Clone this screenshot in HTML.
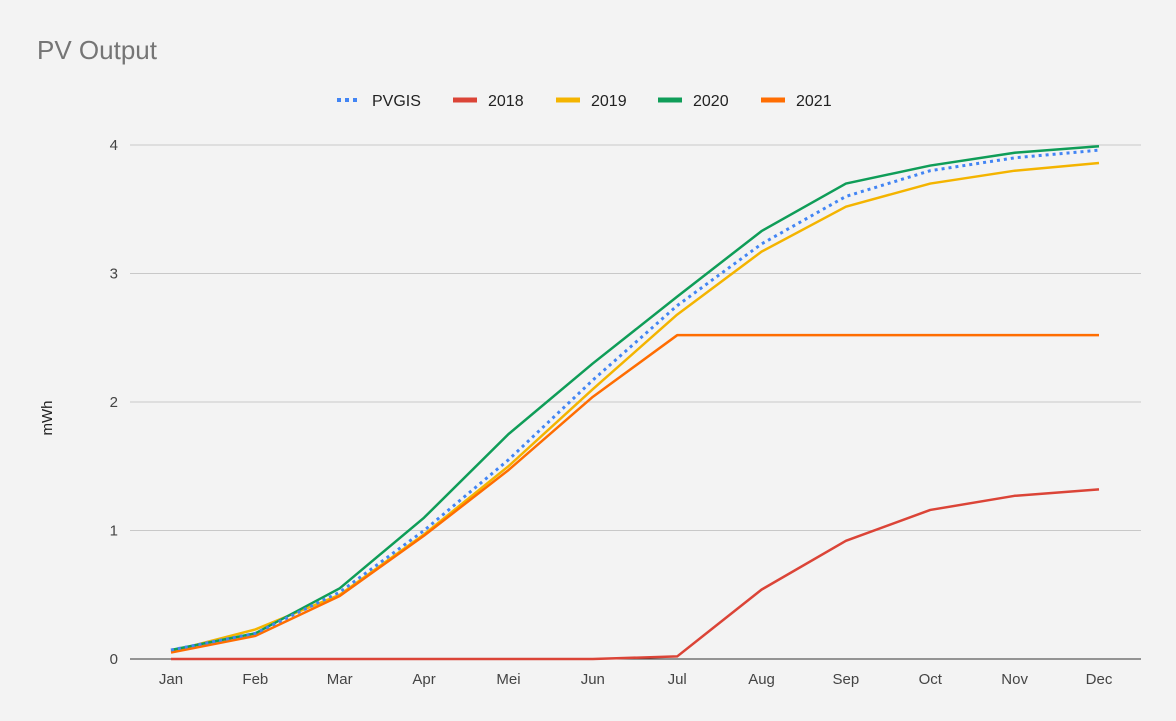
<!DOCTYPE html>
<html><head><meta charset="utf-8"><style>
body{margin:0;background:#f3f3f3;}
svg{display:block;font-family:"Liberation Sans",Roboto,sans-serif;}
</style></head><body>
<svg id="chart" width="1176" height="721" viewBox="0 0 1176 721">
<rect width="1176" height="721" fill="#f3f3f3"/>
<text x="37" y="59" font-size="26" fill="#757575">PV Output</text>
<text transform="translate(52,418) rotate(-90)" text-anchor="middle" font-size="15" fill="#222">mWh</text>
<g id="grid"></g><g id="series"></g><g id="legend"></g>
</svg>
<script>
const months=["Jan","Feb","Mar","Apr","Mei","Jun","Jul","Aug","Sep","Oct","Nov","Dec"];
const yTicks=[0,1,2,3,4];
const pvgis=[0.07,0.2,0.52,1.0,1.55,2.17,2.75,3.23,3.6,3.8,3.9,3.96];
const y2018=[0,0,0,0,0,0,0.02,0.54,0.92,1.16,1.27,1.32];
const y2019=[0.06,0.23,0.5,0.97,1.5,2.1,2.68,3.17,3.52,3.7,3.8,3.86];
const y2020=[0.07,0.2,0.55,1.1,1.75,2.3,2.82,3.33,3.7,3.84,3.94,3.99];
const y2021=[0.05,0.18,0.49,0.96,1.47,2.04,2.52,2.52,2.52,2.52,2.52,2.52];
const NS="http://www.w3.org/2000/svg";
const X=i=>171+i*(1099-171)/(months.length-1);
const Y=v=>659-v*128.5;
function mk(tag,attrs,parent){const e=document.createElementNS(NS,tag);for(const k in attrs)e.setAttribute(k,attrs[k]);parent.appendChild(e);return e;}
const grid=document.getElementById('grid');
yTicks.forEach(t=>{
  const l=mk('line',{x1:130,x2:1141,y1:Y(t),y2:Y(t),stroke:t===0?'#333':'#c8c8c8','stroke-width':1},grid);
  
  
  const tx=mk('text',{x:118,y:Y(t)+5,'text-anchor':'end','font-size':15,fill:'#444'},grid);
  tx.textContent=t;
  
  
});
months.forEach((m,i)=>{
  const tx=mk('text',{x:X(i),y:684,'text-anchor':'middle','font-size':15,fill:'#444'},grid);
  tx.textContent=m;
  
  
});
const series=[["PVGIS",pvgis,"#4285f4",true],["2018",y2018,"#db4437",false],["2019",y2019,"#f4b400",false],["2020",y2020,"#0f9d58",false],["2021",y2021,"#ff6d01",false]];
const sg=document.getElementById('series');
[1,2,4,3,0].forEach(idx=>{
  const [name,vals,col,dot]=series[idx];
  const p=mk('polyline',{points:vals.map((v,i)=>X(i)+','+Y(v)).join(' '),fill:'none',stroke:col,'stroke-width':dot?3:2.5,'stroke-dasharray':dot?'3,4':'none','stroke-linejoin':'round'},sg);
  
  
});
const lg=document.getElementById('legend');
const lx=[337,453,556,658,761];
series.forEach(([name,vals,col,dot],i)=>{
  const g=mk('g',{},lg);
  
  
  mk('line',{x1:lx[i],x2:lx[i]+24,y1:100,y2:100,stroke:col,'stroke-width':dot?4:5,'stroke-dasharray':dot?'4,4':'none'},g);
  const t=mk('text',{x:lx[i]+35,y:106,'font-size':16,fill:'#222'},g);
  t.textContent=name;
});
</script>
</body></html>
